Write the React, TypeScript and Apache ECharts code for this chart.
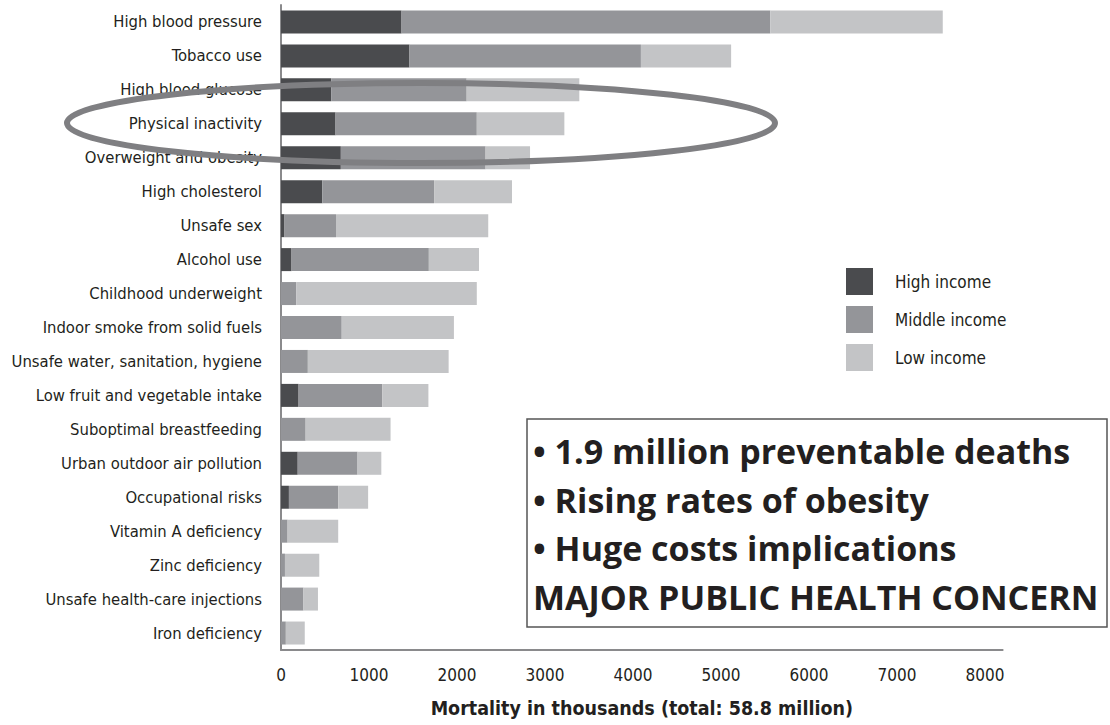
import React, { useEffect, useRef } from "react";
import * as echarts from "echarts";

const categories = [
  "High blood pressure",
  "Tobacco use",
  "High blood glucose",
  "Physical inactivity",
  "Overweight and obesity",
  "High cholesterol",
  "Unsafe sex",
  "Alcohol use",
  "Childhood underweight",
  "Indoor smoke from solid fuels",
  "Unsafe water, sanitation, hygiene",
  "Low fruit and vegetable intake",
  "Suboptimal breastfeeding",
  "Urban outdoor air pollution",
  "Occupational risks",
  "Vitamin A deficiency",
  "Zinc deficiency",
  "Unsafe health-care injections",
  "Iron deficiency",
];

const highIncome = [1370, 1460, 570, 620, 680, 470, 40, 120, 0, 0, 0, 200, 0, 190, 90, 0, 0, 0, 0];
const middleIncome = [4190, 2630, 1540, 1605, 1645, 1270, 585, 1560, 175, 690, 305, 950, 280, 680, 560, 75, 45, 255, 55];
const lowIncome = [1960, 1025, 1280, 995, 505, 885, 1730, 570, 2050, 1275, 1600, 525, 965, 270, 340, 575, 390, 165, 215];

const xTicks = [0, 1000, 2000, 3000, 4000, 5000, 6000, 7000, 8000];

const seriesNames = ["High income", "Middle income", "Low income"];
const seriesColors = ["#4a4b4e", "#949599", "#c3c4c6"];

const boxLines = [
  "• 1.9 million preventable deaths",
  "• Rising rates of obesity",
  "• Huge costs implications",
  "MAJOR PUBLIC HEALTH CONCERN",
];

const narrow = "'Liberation Sans Narrow', 'DejaVu Sans Condensed', 'Roboto Condensed', sans-serif";

export default function App() {
  const ref = useRef<HTMLDivElement>(null);

  useEffect(() => {
    document.body.style.margin = "0";
    if (!ref.current) return;
    const chart = echarts.init(ref.current, null, { renderer: "svg" });
    const dataSets = [highIncome, middleIncome, lowIncome];

    chart.setOption({
      animation: false,
      backgroundColor: "#ffffff",
      grid: { left: 281, top: 5, width: 721.6, height: 645, containLabel: false },
      legend: {
        orient: "vertical",
        left: 846,
        top: 268,
        padding: 0,
        itemWidth: 27,
        itemHeight: 27,
        itemGap: 11,
        icon: "rect",
        data: seriesNames,
        textStyle: {
          fontFamily: narrow,
          fontSize: 17,
          color: "#231f20",
          padding: [0, 0, 0, 17],
        },
      },
      xAxis: {
        type: "value",
        min: 0,
        max: 8200,
        interval: 1000,
        axisLine: { show: true, lineStyle: { color: "#8a8a8c", width: 2 } },
        axisTick: { show: false },
        splitLine: { show: false },
        axisLabel: {
          showMaxLabel: false,
          margin: 16,
          fontFamily: narrow,
          fontSize: 17,
          color: "#231f20",
          formatter: (v: number) => (xTicks.includes(v) ? String(v) : ""),
        },
        name: "Mortality in thousands (total: 58.8 million)",
        nameLocation: "middle",
        nameGap: 48,
        nameTextStyle: {
          fontFamily: narrow,
          fontSize: 19.5,
          fontWeight: "bold",
          color: "#231f20",
        },
      },
      yAxis: {
        type: "category",
        inverse: true,
        data: categories,
        axisLine: { show: true, lineStyle: { color: "#8a8a8c", width: 2 } },
        axisTick: { show: false },
        axisLabel: {
          margin: 19,
          fontFamily: narrow,
          fontSize: 16.5,
          color: "#231f20",
        },
      },
      series: seriesNames.map((name, i) => ({
        name,
        type: "bar",
        stack: "total",
        barWidth: 23,
        data: dataSets[i],
        itemStyle: { color: seriesColors[i] },
      })),
      graphic: [
        {
          type: "rect",
          shape: { x: 527, y: 419, width: 580, height: 208 },
          style: { fill: "#ffffff", stroke: "#555555", lineWidth: 1.5 },
          z: 10,
        },
        ...boxLines.map((t, i) => ({
          type: "text",
          x: 533,
          y: 451 + i * 48.5,
          style: {
            text: t,
            fontFamily: "'Open Sans', 'Noto Sans', sans-serif",
            fontWeight: "bold",
            fontSize: 34,
            fill: "#231f20",
            verticalAlign: "middle",
          },
          z: 11,
        })),
        {
          type: "ellipse",
          shape: { cx: 421, cy: 123, rx: 354, ry: 40 },
          style: { fill: "none", stroke: "#7f7f82", lineWidth: 6 },
          z: 20,
        },
      ],
    });

    return () => chart.dispose();
  }, []);

  return <div ref={ref} style={{ width: 1110, height: 725 }} />;
}
